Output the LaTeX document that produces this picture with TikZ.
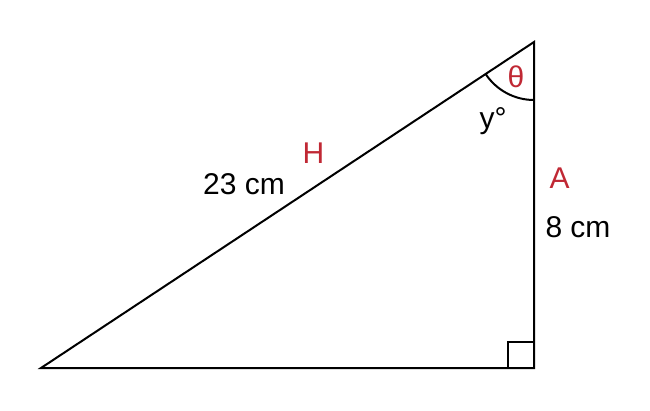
\documentclass[tikz,border=0pt]{standalone}
\usepackage{fontspec}
\setmainfont{Liberation Sans}
\usetikzlibrary{calc}
\definecolor{lblred}{RGB}{192,40,52}
\tikzset{side/.style={line width=2pt,line join=miter},
  lbl/.style={anchor=base,inner sep=0pt,font=\fontsize{30}{36}\selectfont},
  rlbl/.style={lbl,text=lblred}}
\begin{document}
\begin{tikzpicture}[x=1pt,y=-1pt]
\useasboundingbox (0,0) rectangle (650,410);
\coordinate (B) at (41,368);
\coordinate (C) at (534,368);
\coordinate (T) at (534,42);
\draw[side] (B) -- (C) -- (T) -- cycle;
% right angle and angle mark
\draw[side] ($(C)+(-26,0)$) -- ++(0,-26) -- ++(26,0);
\draw[side] ($(T)+(0,58)$) arc[start angle=90,end angle=146.5,radius=58];
\node[rlbl] (theta) at (516,87) {θ};
\node[lbl] (yang) at (493,128) {y°};
\node[rlbl] (H) at (313.5,163) {H};
\node[lbl] (hyp) at (244,194) {23 cm};
\node[rlbl] (A) at (559.5,188) {A};
\node[lbl] (adj) at (578,237) {8 cm};
\end{tikzpicture}
\end{document}
